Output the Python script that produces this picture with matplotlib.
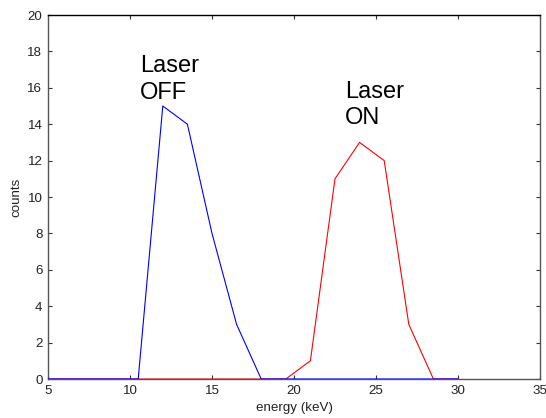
import matplotlib
matplotlib.use("Agg")
import matplotlib.pyplot as plt

energy = [4.5, 6.0, 7.5, 9.0, 10.5, 12.0, 13.5, 15.0, 16.5, 18.0, 19.5, 21.0, 22.5, 24.0, 25.5, 27.0, 28.5, 30.0]
counts_off = [0, 0, 0, 0, 0, 15, 14, 8, 3, 0, 0, 0, 0, 0, 0, 0, 0, 0]
counts_on = [0, 0, 0, 0, 0, 0, 0, 0, 0, 0, 0, 1, 11, 13, 12, 3, 0, 0]

xticks = [5, 10, 15, 20, 25, 30, 35]
yticks = [0, 2, 4, 6, 8, 10, 12, 14, 16, 18, 20]

plt.rcParams['font.family'] = ['Liberation Sans', 'DejaVu Sans']

fig = plt.figure(figsize=(5.46, 4.18), dpi=100)
ax = fig.add_axes([48/546, 39/418, 492/546, 364/418])

ax.plot(energy, counts_on, color='#ff0000', lw=0.8, zorder=2)
ax.plot(energy, counts_off, color='#0000ff', lw=0.8, zorder=3)

ax.set_xlim(5, 35)
ax.set_ylim(0, 20)
ax.set_xticks(xticks)
ax.set_yticks(yticks)
ax.tick_params(axis='both', direction='in', length=3, width=0.8, labelsize=9.6,
               top=True, right=True, colors='#333333', labelcolor='#222222')
ax.tick_params(axis='x', pad=4)
ax.tick_params(axis='y', pad=4)
for side in ['left', 'bottom', 'right']:
    ax.spines[side].set_color('#555555')
    ax.spines[side].set_linewidth(1.0)
ax.spines['top'].set_color('black')
ax.spines['top'].set_linewidth(1.0)

ax.set_xlabel('energy (keV)', fontsize=9.6, labelpad=4, color='#222222')
ax.set_ylabel('counts', fontsize=9.6, labelpad=3.5, color='#222222')

ax.text(10.6, 17.8, 'Laser\nOFF', fontsize=17, va='top', ha='left', linespacing=1.28)
ax.text(23.1, 16.4, 'Laser\nON', fontsize=17, va='top', ha='left', linespacing=1.28)

fig.savefig('out.png', dpi=100)
